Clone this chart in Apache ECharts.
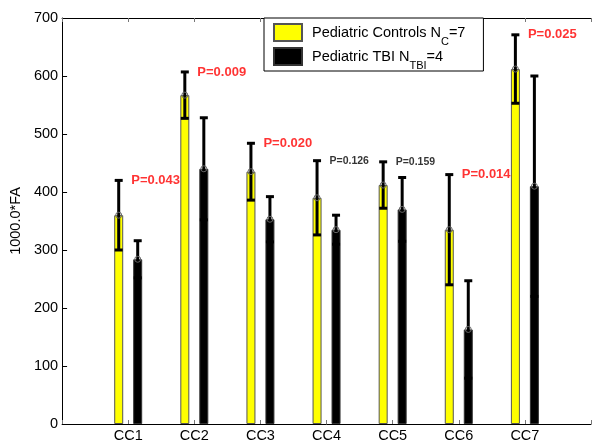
<!DOCTYPE html>
<html><head><meta charset="utf-8">
<script src="https://cdn.jsdelivr.net/npm/echarts@6/dist/echarts.min.js"></script>
<style>html,body{margin:0;padding:0;background:#fff}#c{width:594px;height:443px}</style>
</head><body><div id="c"></div>
<script>
// ---- data ----
const categories = ['CC1', 'CC2', 'CC3', 'CC4', 'CC5', 'CC6', 'CC7'];
const controlMean = [360, 567, 435, 390, 412, 335, 612];
const controlErr  = [60, 40, 49, 64, 40, 95, 59];
const tbiMean     = [284, 440, 353, 335, 370, 163, 410];
const tbiErr      = [32, 88, 39, 25, 55, 84, 190];
const pLabels     = ['P=0.043', 'P=0.009', 'P=0.020', 'P=0.126', 'P=0.159', 'P=0.014', 'P=0.025'];
const pSignificant = [true, true, true, false, false, true, true];
const seriesNames = ['Pediatric Controls', 'Pediatric TBI'];
const legendSubs  = ['C', 'TBI'];
const legendN     = [7, 4];
const yTicks = [0, 100, 200, 300, 400, 500, 600, 700];

// padded categories so that the axis runs from 0 to 8 like the original
const axisCats = [''].concat(categories, ['']);
const pad = arr => ['-'].concat(arr, ['-']);

function errRender(offset) {
  return function (params, api) {
    const x = api.value(0), m = api.value(1), e = api.value(2);
    const top = api.coord([x, m + e]);
    const bot = api.coord([x, m - e]);
    const mid = api.coord([x, m]);
    const cx = top[0] + offset;
    const st = { stroke: '#000', lineWidth: 3 };
    return {
      type: 'group',
      children: [
        { type: 'line', shape: { x1: cx, y1: top[1], x2: cx, y2: bot[1] }, style: st },
        { type: 'line', shape: { x1: cx - 4, y1: top[1], x2: cx + 4, y2: top[1] }, style: st },
        { type: 'line', shape: { x1: cx - 4, y1: bot[1], x2: cx + 4, y2: bot[1] }, style: st },
        { type: 'circle', shape: { cx: cx, cy: mid[1], r: 3 }, style: { fill: 'none', stroke: '#666', lineWidth: 1 } }
      ]
    };
  };
}

const errCtrl = categories.map((c, i) => [i + 1, controlMean[i], controlErr[i]]);
const errTbi = categories.map((c, i) => [i + 1, tbiMean[i], tbiErr[i]]);
const pData = categories.map((c, i) => ({
  value: [i + 1, controlMean[i] + controlErr[i]],
  label: pSignificant[i]
    ? { color: '#ff0000', fontSize: 13, fontWeight: 'bold' }
    : { color: '#000', fontSize: 10.5, fontWeight: 'bold' },
  name: pLabels[i]
}));

const font = 'Liberation Sans, Arial, sans-serif';
const chart = echarts.init(document.getElementById('c'));
chart.setOption({
  animation: false,
  backgroundColor: '#fff',
  grid: { left: 60, right: -10, top: 18, bottom: 19, containLabel: false },
  legend: {
    data: seriesNames,
    orient: 'vertical',
    left: 264, top: 18,
    itemWidth: 28, itemHeight: 17, itemGap: -5,
    padding: [0, 18, 0, 9],
    borderColor: '#000', borderWidth: 1, backgroundColor: '#fff',
    icon: 'rect',
    formatter: function (name) {
      const i = seriesNames.indexOf(name);
      return '{f|' + name + ' N}{s|' + legendSubs[i] + '}{m|=' + legendN[i] + '}';
    },
    textStyle: {
      fontFamily: font, color: '#000',
      rich: {
        f: { fontFamily: font, fontSize: 14.5, lineHeight: 17, color: '#000', padding: [0, 0, 0, 5] },
        m: { fontFamily: font, fontSize: 14.5, lineHeight: 17, color: '#000' },
        s: { fontFamily: font, fontSize: 11, lineHeight: 17, color: '#000', padding: [18, 0, 0, 0] }
      }
    }
  },
  xAxis: [{
    type: 'category', data: axisCats, boundaryGap: false, position: 'bottom',
    axisLine: { lineStyle: { color: '#000', width: 1 } },
    axisTick: { inside: true, length: 4, lineStyle: { color: '#777' }, alignWithLabel: true },
    axisLabel: { interval: 0, color: '#000', fontSize: 14.5, fontFamily: font, margin: 4 },
    splitLine: { show: false }
  }, {
    type: 'category', data: axisCats, boundaryGap: false, position: 'top',
    axisLine: { lineStyle: { color: '#000', width: 1 } },
    axisTick: { inside: true, length: 4, lineStyle: { color: '#777' } },
    axisLabel: { show: false },
    splitLine: { show: false }
  }],
  yAxis: {
    type: 'value', min: yTicks[0], max: yTicks[yTicks.length - 1], interval: 100,
    name: '1000.0*FA', nameLocation: 'middle', nameGap: 31,
    nameTextStyle: { color: '#000', fontSize: 14.5, fontFamily: font },
    axisLine: { show: true, lineStyle: { color: '#000', width: 1 } },
    axisTick: { show: true, inside: true, length: 5, lineStyle: { color: '#000' } },
    axisLabel: { color: '#000', fontSize: 14.5, fontFamily: font, margin: 4 },
    splitLine: { show: false }
  },
  series: [
    {
      name: seriesNames[0], type: 'bar', data: pad(controlMean),
      barWidth: 9, barGap: '111%',
      itemStyle: { color: '#ffff00', borderColor: '#555', borderWidth: 1 }
    },
    {
      name: seriesNames[1], type: 'bar', data: pad(tbiMean),
      barWidth: 9,
      itemStyle: { color: '#000', borderColor: '#333', borderWidth: 1 }
    },
    { type: 'custom', renderItem: errRender(-9.5), data: errCtrl, z: 5, encode: { x: 0, y: 1 } },
    { type: 'custom', renderItem: errRender(9.5), data: errTbi, z: 5, encode: { x: 0, y: 1 } },
    {
      type: 'scatter', data: pData, symbolSize: 0, z: 6,
      label: { show: true, position: 'right', distance: 3, fontFamily: font, formatter: p => p.name }
    }
  ]
});
</script></body></html>
